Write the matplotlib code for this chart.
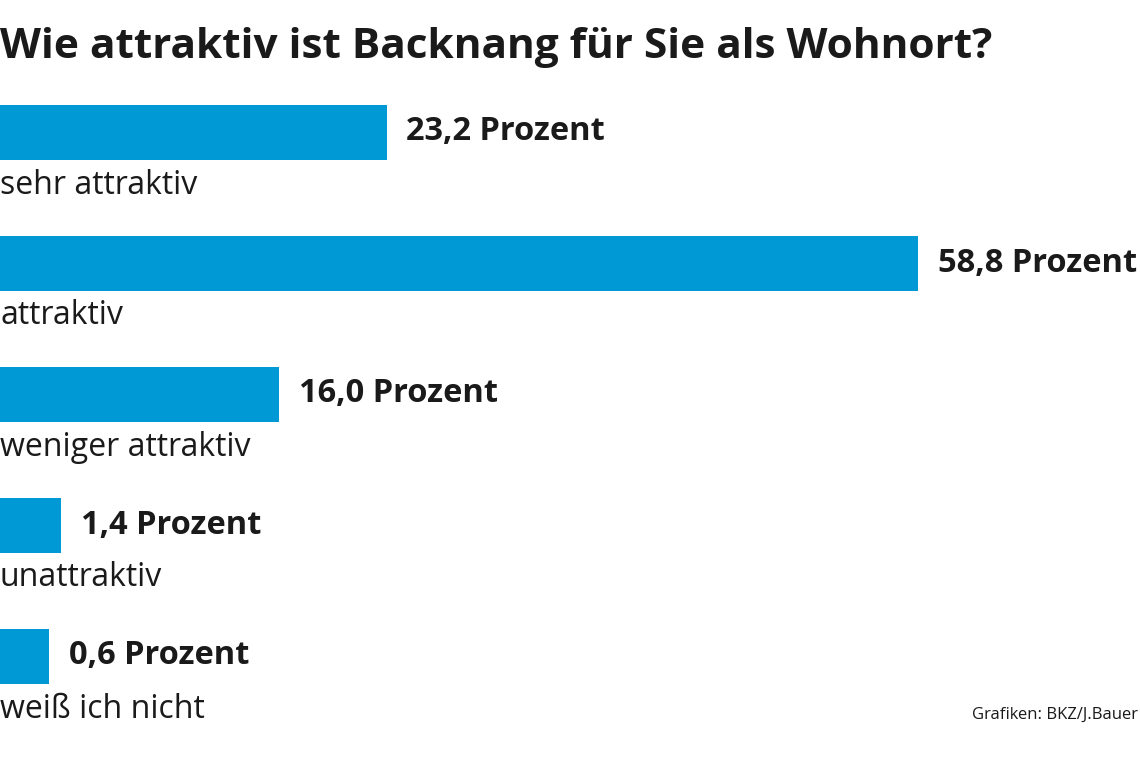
import matplotlib
matplotlib.use('Agg')
import matplotlib.pyplot as plt
import numpy as np

categories = ['sehr attraktiv', 'attraktiv', 'weniger attraktiv', 'unattraktiv', 'weiß ich nicht']
values = [23.2, 58.8, 16.0, 1.4, 0.6]
value_labels = ['23,2 Prozent', '58,8 Prozent', '16,0 Prozent', '1,4 Prozent', '0,6 Prozent']

BAR = '#0099d5'
FONT = 'Open Sans'
BASE = -2.7

fig = plt.figure(figsize=(11.4, 7.6), dpi=100)
ax = fig.add_axes([0, 0, 1, 1])
ax.set_xlim(BASE, BASE + 1140 / 14.93)
ax.set_ylim(760, 0)
ax.axis('off')

ys = 132 + np.arange(len(values)) * 131
ax.barh(ys, np.array(values) - BASE, left=BASE, height=55, color=BAR)
for y, v, lab, cat in zip(ys, values, value_labels, categories):
    ax.text(v + 1.3, y, lab, fontsize=23.5, fontweight='bold', family=FONT,
            va='center', ha='left', color='#1a1a1a')
    ax.text(BASE, y + 53, cat, fontsize=23, family=FONT, va='center', ha='left',
            color='#1a1a1a')

ax.text(BASE, 48, 'Wie attraktiv ist Backnang für Sie als Wohnort?', fontsize=30.5,
        fontweight='bold', family=FONT, va='center', ha='left', color='#1a1a1a')
ax.text(BASE + 1138 / 14.93, 715, 'Grafiken: BKZ/J.Bauer', fontsize=12, family=FONT,
        va='center', ha='right', color='#1a1a1a')

fig.savefig('out.png', dpi=100, facecolor='white')
